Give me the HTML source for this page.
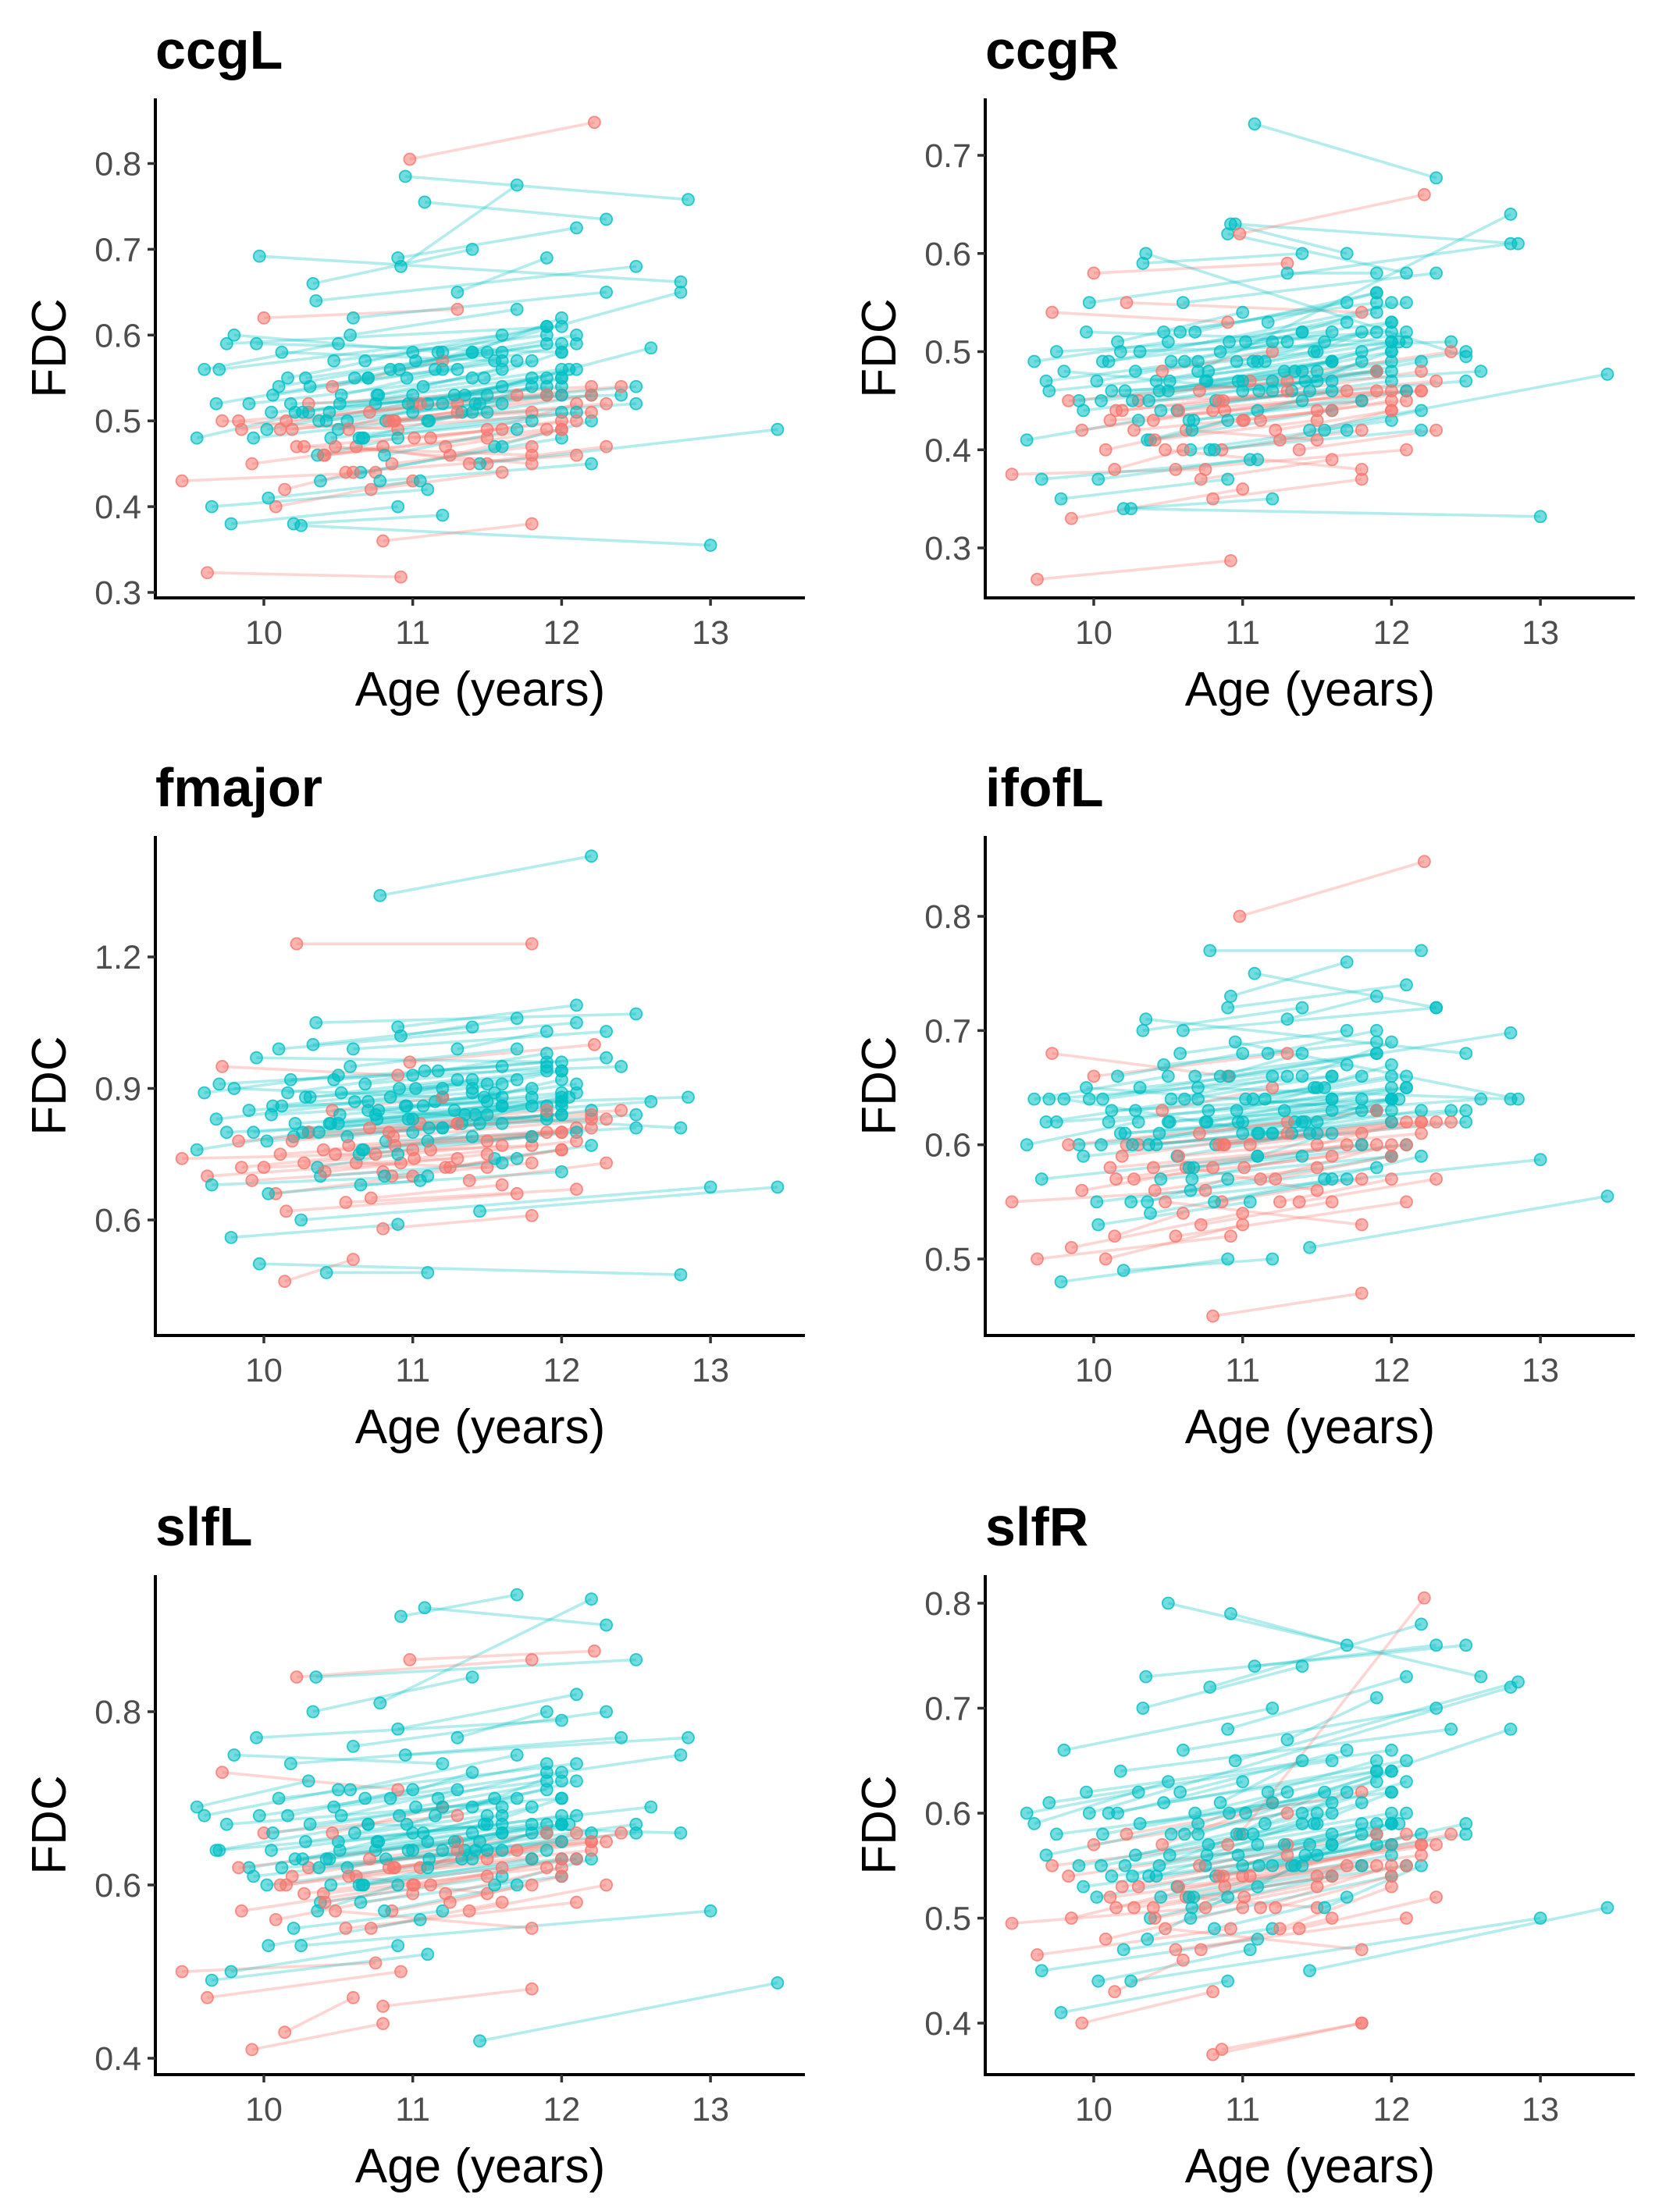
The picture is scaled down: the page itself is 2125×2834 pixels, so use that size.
<!DOCTYPE html>
<html><head><meta charset="utf-8"><style>
html,body{margin:0;padding:0;background:#fff;}
svg{display:block;font-family:"Liberation Sans",Arial,sans-serif;}
</style></head><body>
<svg id="chart" width="2125" height="2834" viewBox="0 0 2125 2834" xmlns="http://www.w3.org/2000/svg"></svg>
<script>
// Shared subject ages (time point 1, time point 2) and sex group (0 = red, 1 = teal)
const age1 = [9.45,9.55,9.62,9.65,9.70,9.72,9.75,9.80,9.85,9.90,9.92,9.95,9.97,10.00,10.02,10.05,10.08,10.10,10.12,10.15,10.18,10.20,10.22,10.25,10.28,10.30,10.33,10.35,10.38,10.40,10.42,10.45,10.48,10.50,10.52,10.55,10.58,10.60,10.62,10.65,10.68,10.70,10.72,10.75,10.78,10.80,10.82,10.85,10.88,10.90,10.92,10.95,10.98,11.00,11.02,11.05,11.08,11.10,11.12,11.15,11.20,11.25,11.30,11.35,11.40,11.45,11.50,11.55,9.60,9.78,10.03,10.14,10.26,10.36,10.46,10.56,10.66,10.76,10.86,10.96,
  9.68,9.83,9.93,10.06,10.11,10.16,10.21,10.27,10.31,10.37,10.41,10.47,10.51,10.57,10.61,10.67,10.71,10.77,10.81,10.87,10.91,10.97,11.01,11.07,11.11,11.17,11.22,11.28,11.33,11.38,11.42,11.48,10.19,10.44,10.64,10.84];
const age2 = [10.75,10.30,10.92,11.10,11.60,10.90,12.00,11.20,11.00,11.40,10.80,12.00,12.80,11.30,11.90,11.50,11.00,12.10,11.60,11.70,12.40,11.20,11.80,13.00,11.50,12.20,11.40,12.50,11.60,11.90,11.10,12.00,11.80,12.60,11.30,12.10,11.70,12.30,11.50,12.00,11.90,12.80,11.60,12.00,12.20,11.80,12.50,11.40,12.00,12.10,11.70,12.85,12.22,11.90,12.00,12.40,12.30,11.60,12.00,12.10,12.50,12.00,11.90,12.05,12.00,13.45,12.10,12.20,10.50,10.90,11.05,10.60,11.00,10.90,11.20,11.45,11.40,11.60,11.80,11.55,
  10.70,11.30,11.50,11.20,11.80,11.00,11.90,11.60,11.70,12.00,11.50,11.90,11.80,12.20,11.60,12.10,11.90,12.00,11.70,12.30,11.90,12.00,12.10,11.80,12.20,11.90,12.00,12.10,11.80,12.30,12.00,12.00,11.30,11.60,11.80,12.20];
const sexGroup = [0,1,0,1,1,0,1,1,0,1,0,1,1,0,1,1,0,1,1,0,1,1,0,1,1,0,1,1,1,0,1,1,0,1,1,0,1,1,0,1,1,1,0,1,1,0,1,1,0,1,1,1,0,1,1,0,1,1,0,1,1,0,1,1,1,1,0,1,1,1,1,0,1,1,0,1,1,1,0,1,
  1,0,1,1,0,1,1,0,1,1,0,1,1,0,1,1,0,1,1,0,1,1,0,1,1,1,0,1,1,0,1,1,0,1,1,0];

// Panel FDC values
const ccgL_t1 = [0.43,0.48,0.323,0.40,0.56,0.50,0.59,0.60,0.49,0.52,0.45,0.59,0.692,0.62,0.49,0.51,0.40,0.54,0.58,0.50,0.52,0.38,0.47,0.378,0.55,0.52,0.66,0.64,0.43,0.46,0.50,0.48,0.47,0.49,0.53,0.44,0.60,0.62,0.47,0.44,0.57,0.55,0.42,0.52,0.43,0.36,0.50,0.56,0.50,0.69,0.68,0.785,0.805,0.51,0.57,0.52,0.755,0.50,0.48,0.56,0.52,0.46,0.65,0.53,0.58,0.45,0.49,0.47,0.56,0.38,0.41,0.42,0.51,0.46,0.54,0.50,0.48,0.53,0.45,0.55,
  0.52,0.50,0.48,0.53,0.49,0.55,0.51,0.47,0.54,0.50,0.46,0.57,0.52,0.49,0.55,0.48,0.51,0.53,0.46,0.50,0.56,0.52,0.48,0.54,0.50,0.58,0.47,0.53,0.51,0.45,0.52,0.55,0.49,0.51,0.48,0.50];
const ccgL_t2 = [0.44,0.51,0.318,0.42,0.60,0.49,0.61,0.58,0.52,0.55,0.47,0.58,0.662,0.63,0.55,0.53,0.43,0.60,0.57,0.53,0.53,0.39,0.46,0.355,0.58,0.54,0.70,0.68,0.47,0.49,0.52,0.51,0.45,0.585,0.56,0.46,0.63,0.65,0.45,0.48,0.61,0.65,0.44,0.54,0.45,0.38,0.52,0.58,0.53,0.725,0.775,0.758,0.848,0.53,0.59,0.54,0.735,0.52,0.50,0.59,0.54,0.49,0.69,0.56,0.62,0.49,0.52,0.50,0.59,0.40,0.43,0.44,0.53,0.48,0.57,0.52,0.51,0.56,0.47,0.57,
  0.55,0.52,0.51,0.56,0.51,0.58,0.54,0.49,0.57,0.53,0.48,0.60,0.55,0.51,0.58,0.51,0.53,0.56,0.49,0.52,0.59,0.55,0.50,0.57,0.53,0.61,0.49,0.56,0.54,0.47,0.55,0.58,0.51,0.54,0.50,0.53];
const ccgR_t1 = [0.375,0.41,0.268,0.37,0.46,0.54,0.50,0.48,0.33,0.45,0.42,0.52,0.55,0.58,0.47,0.45,0.40,0.49,0.46,0.44,0.50,0.34,0.55,0.34,0.48,0.45,0.59,0.60,0.41,0.43,0.47,0.44,0.40,0.46,0.49,0.38,0.52,0.55,0.42,0.40,0.52,0.48,0.37,0.47,0.40,0.35,0.45,0.50,0.44,0.62,0.63,0.63,0.62,0.46,0.51,0.47,0.732,0.44,0.43,0.49,0.47,0.41,0.58,0.48,0.52,0.42,0.44,0.42,0.49,0.35,0.37,0.38,0.45,0.41,0.48,0.44,0.42,0.47,0.40,0.49,
  0.47,0.45,0.44,0.49,0.43,0.51,0.46,0.42,0.50,0.45,0.41,0.52,0.47,0.44,0.49,0.43,0.46,0.48,0.40,0.45,0.51,0.47,0.43,0.49,0.46,0.53,0.42,0.48,0.46,0.40,0.47,0.50,0.44,0.46,0.43,0.45];
const ccgR_t2 = [0.38,0.43,0.287,0.39,0.49,0.53,0.52,0.46,0.36,0.48,0.44,0.51,0.61,0.59,0.52,0.48,0.43,0.55,0.47,0.46,0.51,0.35,0.54,0.332,0.50,0.46,0.60,0.495,0.44,0.46,0.49,0.47,0.38,0.48,0.51,0.40,0.55,0.58,0.41,0.43,0.56,0.64,0.39,0.49,0.42,0.37,0.47,0.52,0.46,0.58,0.60,0.61,0.66,0.48,0.53,0.50,0.677,0.46,0.45,0.52,0.50,0.44,0.58,0.51,0.55,0.477,0.46,0.44,0.51,0.37,0.39,0.40,0.47,0.43,0.50,0.46,0.45,0.49,0.42,0.51,
  0.49,0.47,0.47,0.51,0.45,0.54,0.48,0.44,0.53,0.48,0.43,0.55,0.50,0.46,0.52,0.46,0.48,0.51,0.42,0.47,0.54,0.50,0.45,0.52,0.49,0.56,0.44,0.51,0.49,0.42,0.50,0.53,0.46,0.49,0.45,0.48];
const fmajor_t1 = [0.74,0.76,0.70,0.68,0.91,0.95,0.80,0.90,0.72,0.85,0.69,0.97,0.50,0.72,0.78,0.84,0.66,0.99,0.86,0.62,0.92,0.79,1.23,0.60,0.88,0.80,1.00,1.05,0.70,0.76,0.48,0.82,0.75,0.82,0.89,0.64,0.95,0.99,0.73,0.68,0.91,0.85,0.65,0.84,1.34,0.58,0.78,0.88,0.77,1.04,1.02,0.86,0.96,0.80,0.90,0.82,0.94,0.78,0.76,0.87,0.81,0.72,0.99,0.84,0.90,0.62,0.78,0.74,0.89,0.56,0.66,0.46,0.80,0.72,0.85,0.79,0.76,0.83,0.70,0.86,
  0.83,0.78,0.80,0.86,0.75,0.89,0.82,0.73,0.88,0.80,0.71,0.92,0.84,0.77,0.87,0.76,0.81,0.85,0.70,0.79,0.90,0.83,0.74,0.86,0.81,0.94,0.72,0.85,0.82,0.69,0.84,0.88,0.78,0.82,0.75,0.80];
const fmajor_t2 = [0.75,0.80,0.73,0.70,0.95,0.93,0.84,0.88,0.76,0.89,0.71,0.96,0.475,0.74,0.83,0.87,0.70,1.05,0.88,0.66,0.95,0.81,1.23,0.675,0.91,0.83,1.04,1.07,0.73,0.80,0.48,0.86,0.77,0.87,0.92,0.67,0.99,1.03,0.72,0.71,0.95,0.81,0.68,0.87,1.43,0.61,0.81,0.92,0.80,1.09,1.06,0.88,1.00,0.84,0.94,0.85,0.97,0.82,0.80,0.91,0.84,0.76,1.03,0.88,0.94,0.675,0.81,0.77,0.93,0.59,0.69,0.51,0.83,0.75,0.88,0.82,0.79,0.86,0.73,0.89,
  0.87,0.82,0.84,0.90,0.79,0.93,0.86,0.77,0.92,0.84,0.75,0.96,0.88,0.81,0.91,0.80,0.85,0.89,0.74,0.83,0.94,0.87,0.78,0.90,0.85,0.98,0.76,0.89,0.86,0.73,0.88,0.92,0.82,0.86,0.79,0.84];
const ifofL_t1 = [0.55,0.60,0.50,0.57,0.64,0.68,0.62,0.64,0.51,0.60,0.56,0.65,0.64,0.66,0.55,0.60,0.50,0.62,0.63,0.57,0.61,0.49,0.60,0.55,0.63,0.60,0.70,0.71,0.54,0.58,0.60,0.57,0.55,0.62,0.64,0.52,0.68,0.70,0.58,0.56,0.66,0.65,0.53,0.62,0.77,0.45,0.60,0.66,0.60,0.72,0.73,0.69,0.80,0.61,0.64,0.60,0.75,0.59,0.57,0.64,0.61,0.55,0.71,0.62,0.66,0.51,0.60,0.57,0.64,0.48,0.53,0.52,0.60,0.55,0.63,0.59,0.57,0.62,0.55,0.63,
  0.62,0.60,0.59,0.64,0.58,0.66,0.61,0.57,0.65,0.60,0.56,0.67,0.62,0.59,0.64,0.58,0.61,0.63,0.55,0.60,0.66,0.62,0.58,0.64,0.61,0.68,0.57,0.63,0.61,0.55,0.62,0.65,0.59,0.61,0.58,0.60];
const ifofL_t2 = [0.56,0.62,0.52,0.59,0.66,0.66,0.64,0.61,0.54,0.62,0.58,0.63,0.698,0.68,0.58,0.62,0.53,0.65,0.64,0.60,0.63,0.50,0.61,0.587,0.65,0.62,0.72,0.68,0.57,0.60,0.61,0.59,0.53,0.64,0.66,0.55,0.70,0.72,0.56,0.59,0.68,0.64,0.55,0.64,0.77,0.47,0.62,0.68,0.62,0.74,0.76,0.64,0.848,0.63,0.66,0.62,0.72,0.61,0.60,0.66,0.63,0.57,0.73,0.64,0.69,0.555,0.62,0.59,0.66,0.50,0.55,0.54,0.62,0.57,0.65,0.61,0.59,0.64,0.57,0.65,
  0.64,0.62,0.61,0.66,0.60,0.68,0.63,0.59,0.67,0.62,0.58,0.69,0.64,0.61,0.66,0.60,0.63,0.65,0.57,0.62,0.68,0.64,0.60,0.66,0.63,0.70,0.59,0.65,0.63,0.57,0.64,0.67,0.61,0.63,0.60,0.62];
const slfL_t1 = [0.50,0.69,0.47,0.49,0.64,0.73,0.67,0.75,0.57,0.62,0.41,0.77,0.68,0.66,0.60,0.64,0.56,0.70,0.62,0.60,0.74,0.55,0.84,0.53,0.65,0.62,0.80,0.84,0.58,0.59,0.63,0.60,0.57,0.65,0.68,0.55,0.71,0.76,0.61,0.58,0.70,0.67,0.55,0.64,0.81,0.46,0.63,0.70,0.62,0.78,0.91,0.75,0.86,0.64,0.69,0.62,0.92,0.62,0.60,0.68,0.64,0.58,0.77,0.64,0.69,0.42,0.63,0.60,0.68,0.50,0.53,0.43,0.63,0.57,0.66,0.62,0.60,0.65,0.57,0.67,
  0.64,0.62,0.61,0.66,0.60,0.68,0.63,0.59,0.67,0.62,0.58,0.69,0.64,0.61,0.66,0.60,0.63,0.65,0.57,0.62,0.68,0.64,0.60,0.66,0.63,0.70,0.59,0.65,0.63,0.57,0.64,0.67,0.61,0.63,0.60,0.62];
const slfL_t2 = [0.51,0.72,0.50,0.52,0.67,0.71,0.70,0.74,0.60,0.66,0.44,0.79,0.75,0.68,0.64,0.67,0.59,0.74,0.64,0.64,0.77,0.57,0.86,0.57,0.68,0.65,0.84,0.86,0.61,0.62,0.65,0.63,0.55,0.69,0.71,0.58,0.75,0.80,0.59,0.61,0.74,0.66,0.58,0.67,0.93,0.48,0.66,0.73,0.65,0.82,0.935,0.77,0.87,0.67,0.72,0.66,0.90,0.66,0.63,0.72,0.67,0.61,0.80,0.67,0.73,0.487,0.66,0.63,0.71,0.53,0.56,0.47,0.66,0.60,0.69,0.65,0.63,0.68,0.60,0.70,
  0.67,0.65,0.64,0.69,0.63,0.71,0.66,0.62,0.70,0.65,0.61,0.72,0.67,0.64,0.69,0.63,0.66,0.68,0.60,0.65,0.71,0.67,0.63,0.69,0.66,0.73,0.62,0.68,0.66,0.60,0.67,0.70,0.64,0.66,0.63,0.65];
const slfR_t1 = [0.495,0.60,0.465,0.45,0.61,0.55,0.58,0.66,0.50,0.55,0.40,0.62,0.60,0.57,0.52,0.55,0.48,0.60,0.54,0.51,0.64,0.47,0.58,0.44,0.56,0.53,0.70,0.73,0.50,0.51,0.54,0.52,0.49,0.80,0.58,0.47,0.62,0.66,0.52,0.50,0.60,0.58,0.47,0.55,0.72,0.37,0.54,0.61,0.53,0.68,0.79,0.65,0.58,0.55,0.60,0.54,0.74,0.53,0.51,0.59,0.55,0.49,0.67,0.55,0.60,0.45,0.54,0.51,0.59,0.41,0.44,0.43,0.54,0.48,0.57,0.53,0.51,0.56,0.375,0.58,
  0.56,0.54,0.53,0.58,0.52,0.60,0.55,0.51,0.59,0.54,0.50,0.61,0.56,0.53,0.58,0.52,0.55,0.57,0.49,0.54,0.60,0.56,0.52,0.58,0.55,0.62,0.51,0.57,0.55,0.49,0.56,0.59,0.53,0.55,0.52,0.54];
const slfR_t2 = [0.51,0.62,0.49,0.48,0.65,0.57,0.62,0.70,0.54,0.59,0.43,0.66,0.72,0.60,0.57,0.59,0.51,0.65,0.57,0.55,0.68,0.49,0.62,0.50,0.60,0.57,0.74,0.76,0.54,0.55,0.57,0.56,0.47,0.73,0.62,0.50,0.66,0.70,0.51,0.54,0.64,0.68,0.50,0.59,0.78,0.40,0.58,0.65,0.57,0.73,0.76,0.725,0.805,0.59,0.64,0.58,0.76,0.57,0.55,0.63,0.59,0.53,0.71,0.59,0.64,0.51,0.58,0.55,0.63,0.44,0.47,0.46,0.58,0.52,0.61,0.57,0.55,0.60,0.40,0.62,
  0.59,0.57,0.56,0.61,0.55,0.63,0.58,0.54,0.62,0.57,0.53,0.64,0.59,0.56,0.61,0.55,0.58,0.60,0.52,0.57,0.63,0.59,0.55,0.61,0.58,0.65,0.54,0.60,0.58,0.52,0.59,0.62,0.56,0.58,0.55,0.57];

// Tick labels
const xTicks = [10,11,12,13];
const ccgL_ticks = [0.3,0.4,0.5,0.6,0.7,0.8];
const ccgR_ticks = [0.3,0.4,0.5,0.6,0.7];
const fmajor_ticks = [0.6,0.9,1.2];
const ifofL_ticks = [0.5,0.6,0.7,0.8];
const slfL_ticks = [0.4,0.6,0.8];
const slfR_ticks = [0.4,0.5,0.6,0.7,0.8];
const panelTitles = ["ccgL","ccgR","fmajor","ifofL","slfL","slfR"];

const NS = "http://www.w3.org/2000/svg";
const svg = document.getElementById("chart");
const RED = "#F8766D", TEAL = "#00BFC4";

function mk(tag, attrs, parent) {
  const e = document.createElementNS(NS, tag);
  for (const k in attrs) e.setAttribute(k, attrs[k]);
  parent.appendChild(e);
  return e;
}

const panels = [
  [panelTitles[0], ccgL_t1, ccgL_t2, ccgL_ticks, 0, 0, 0.8, 209.5, 0.3, 759],
  [panelTitles[1], ccgR_t1, ccgR_t2, ccgR_ticks, 1, 0, 0.7, 199, 0.3, 702],
  [panelTitles[2], fmajor_t1, fmajor_t2, fmajor_ticks, 0, 1, 1.2, 1226, 0.6, 1563],
  [panelTitles[3], ifofL_t1, ifofL_t2, ifofL_ticks, 1, 1, 0.8, 1174, 0.5, 1613],
  [panelTitles[4], slfL_t1, slfL_t2, slfL_ticks, 0, 2, 0.8, 2193, 0.4, 2637],
  [panelTitles[5], slfR_t1, slfR_t2, slfR_ticks, 1, 2, 0.8, 2054, 0.4, 2592]
];
const rowOff = [0, 945, 1892];

panels.forEach(p => {
  const [title, t1, t2, ticks, col, row, vA, pA, vB, pB] = p;
  const xo = col * 1063, yo = rowOff[row];
  const left = 199 + xo, right = 1031 + xo, top = 126 + yo, bottom = 766 + yo;
  const xs = v => 338 + xo + (v - 10) * 190.7;
  const ys = v => pA + (v - vA) * (pB - pA) / (vB - vA);

  const g = mk("g", {}, svg);
  
  

  const tt = mk("text", {x: left, y: 88 + yo, "font-size": 70, "font-weight": "bold", fill: "#000"}, g);
  tt.textContent = title;
  
  

  const n = Math.min(age1.length, age2.length, sexGroup.length, t1.length, t2.length);
  const lg = mk("g", {}, g);
  
  
  for (let i = 0; i < n; i++) {
    const c = sexGroup[i] ? TEAL : RED;
    const ln = mk("line", {x1: xs(age1[i]), y1: ys(t1[i]), x2: xs(age2[i]), y2: ys(t2[i]), stroke: c, "stroke-width": 3.6, "stroke-opacity": 0.3}, lg);
    
    
  }
  const pg = mk("g", {}, g);
  
  
  for (let i = 0; i < n; i++) {
    const c = sexGroup[i] ? TEAL : RED;
    [[age1[i], t1[i]], [age2[i], t2[i]]].forEach(([a, v]) => {
      const pt = mk("circle", {cx: xs(a), cy: ys(v), r: 7.5, fill: c, "fill-opacity": 0.55, stroke: c, "stroke-opacity": 0.8, "stroke-width": 1.8}, pg);
      
      
    });
  }

  const ya = mk("line", {x1: left, y1: top, x2: left, y2: bottom + 2, stroke: "#000", "stroke-width": 4}, g);
  
  
  const xa = mk("line", {x1: left - 2, y1: bottom, x2: right, y2: bottom, stroke: "#000", "stroke-width": 4}, g);
  
  

  ticks.forEach(t => {
    const y = ys(t);
    const tk = mk("line", {x1: left - 10, y1: y, x2: left, y2: y, stroke: "#333", "stroke-width": 3.5}, g);
    
    
    const lb = mk("text", {x: left - 18, y: y + 15, "font-size": 43, fill: "#4d4d4d", "text-anchor": "end"}, g);
    lb.textContent = t.toFixed(1);
    
    
  });
  xTicks.forEach(t => {
    const x = xs(t);
    const tk = mk("line", {x1: x, y1: bottom, x2: x, y2: bottom + 10, stroke: "#333", "stroke-width": 3.5}, g);
    
    
    const lb = mk("text", {x: x, y: bottom + 59, "font-size": 43, fill: "#4d4d4d", "text-anchor": "middle"}, g);
    lb.textContent = t;
    
    
  });
  const xt = mk("text", {x: (left + right) / 2, y: bottom + 138, "font-size": 62, fill: "#000", "text-anchor": "middle"}, g);
  xt.textContent = "Age (years)";
  
  
  const cy = (top + bottom) / 2;
  const yt = mk("text", {x: 84 + xo, y: cy, "font-size": 62, fill: "#000", "text-anchor": "middle", transform: "rotate(-90 " + (84 + xo) + " " + cy + ")"}, g);
  yt.textContent = "FDC";
  
  
});
</script>
</body></html>
